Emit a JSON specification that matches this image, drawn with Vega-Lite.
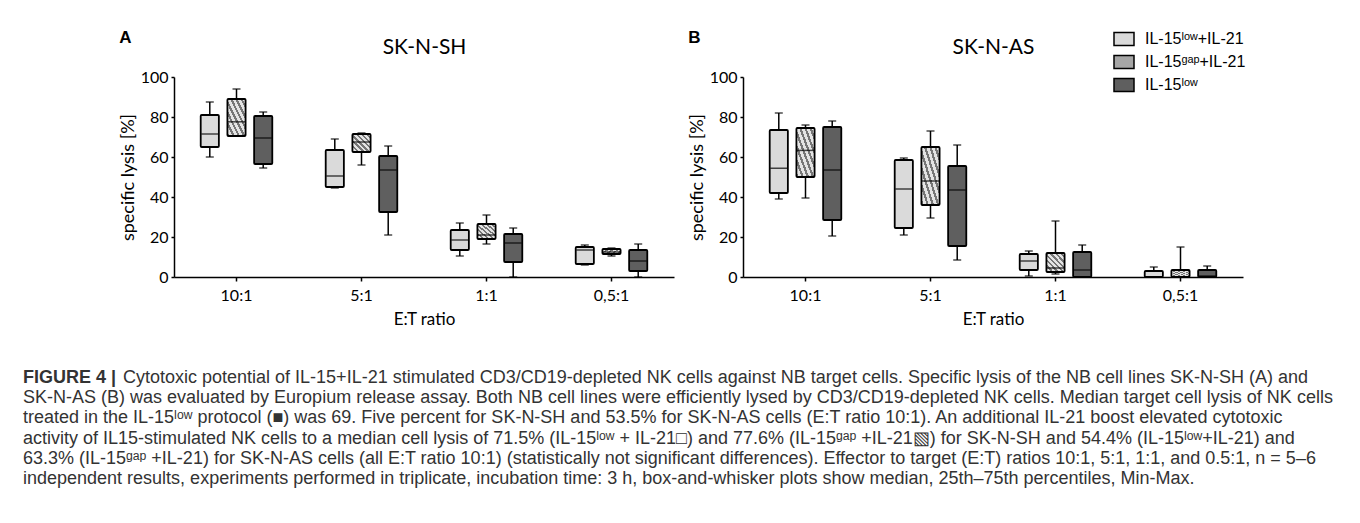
{
  "$schema": "https://vega.github.io/schema/vega-lite/v6.json",
  "background": "white",
  "padding": {"left": 23, "top": 28, "right": 0, "bottom": 0},
  "datasets": {
    "sh": [
      {"ratio": "10:1", "group": "IL-15ˡᵒʷ+IL-21", "min": 60, "q1": 65, "median": 71.5, "q3": 81, "max": 87.5},
      {"ratio": "10:1", "group": "IL-15ᵍᵃᵖ+IL-21", "min": 70.5, "q1": 70.5, "median": 77.6, "q3": 89, "max": 94},
      {"ratio": "10:1", "group": "IL-15ˡᵒʷ", "min": 54.5, "q1": 56.5, "median": 69.5, "q3": 80.5, "max": 82.5},
      {"ratio": "5:1", "group": "IL-15ˡᵒʷ+IL-21", "min": 44.5, "q1": 45, "median": 50.5, "q3": 63.5, "max": 69},
      {"ratio": "5:1", "group": "IL-15ᵍᵃᵖ+IL-21", "min": 56, "q1": 62.5, "median": 67.5, "q3": 71.5, "max": 72},
      {"ratio": "5:1", "group": "IL-15ˡᵒʷ", "min": 21, "q1": 32.5, "median": 53.5, "q3": 60.5, "max": 65.5},
      {"ratio": "1:1", "group": "IL-15ˡᵒʷ+IL-21", "min": 10.5, "q1": 13.5, "median": 18.5, "q3": 23.5, "max": 27},
      {"ratio": "1:1", "group": "IL-15ᵍᵃᵖ+IL-21", "min": 16.5, "q1": 19, "median": 21, "q3": 26.5, "max": 31},
      {"ratio": "1:1", "group": "IL-15ˡᵒʷ", "min": 0, "q1": 7.5, "median": 17, "q3": 21.5, "max": 24.5},
      {"ratio": "0,5:1", "group": "IL-15ˡᵒʷ+IL-21", "min": 6, "q1": 6.5, "median": 13.5, "q3": 15, "max": 16},
      {"ratio": "0,5:1", "group": "IL-15ᵍᵃᵖ+IL-21", "min": 10.5, "q1": 11.5, "median": 12.5, "q3": 14, "max": 14.5},
      {"ratio": "0,5:1", "group": "IL-15ˡᵒʷ", "min": 0, "q1": 3, "median": 8, "q3": 13.5, "max": 16.5}
    ],
    "as": [
      {"ratio": "10:1", "group": "IL-15ˡᵒʷ+IL-21", "min": 39, "q1": 42, "median": 54.4, "q3": 73.5, "max": 82},
      {"ratio": "10:1", "group": "IL-15ᵍᵃᵖ+IL-21", "min": 39.5, "q1": 50, "median": 63.3, "q3": 74.5, "max": 76},
      {"ratio": "10:1", "group": "IL-15ˡᵒʷ", "min": 20.5, "q1": 28.5, "median": 53.5, "q3": 75, "max": 78},
      {"ratio": "5:1", "group": "IL-15ˡᵒʷ+IL-21", "min": 21, "q1": 24.5, "median": 44, "q3": 58.5, "max": 59.5},
      {"ratio": "5:1", "group": "IL-15ᵍᵃᵖ+IL-21", "min": 29.5, "q1": 36, "median": 48, "q3": 65, "max": 73},
      {"ratio": "5:1", "group": "IL-15ˡᵒʷ", "min": 8.5, "q1": 15.5, "median": 43.5, "q3": 55.5, "max": 66},
      {"ratio": "1:1", "group": "IL-15ˡᵒʷ+IL-21", "min": 0.5, "q1": 3.5, "median": 8, "q3": 11.5, "max": 13},
      {"ratio": "1:1", "group": "IL-15ᵍᵃᵖ+IL-21", "min": 1.5, "q1": 2.5, "median": 4.5, "q3": 12, "max": 28},
      {"ratio": "1:1", "group": "IL-15ˡᵒʷ", "min": 0, "q1": 0, "median": 3.5, "q3": 12.5, "max": 16},
      {"ratio": "0,5:1", "group": "IL-15ˡᵒʷ+IL-21", "min": 0, "q1": 0, "median": 0, "q3": 3, "max": 5},
      {"ratio": "0,5:1", "group": "IL-15ᵍᵃᵖ+IL-21", "min": 0, "q1": 0, "median": 0, "q3": 3.5, "max": 15},
      {"ratio": "0,5:1", "group": "IL-15ˡᵒʷ", "min": 0, "q1": 0, "median": 0.5, "q3": 3.5, "max": 5.5}
    ],
    "caption": [
      {"line": 1, "label": "FIGURE 4 |", "text": "Cytotoxic potential of IL-15+IL-21 stimulated CD3/CD19-depleted NK cells against NB target cells. Specific lysis of the NB cell lines SK-N-SH (A) and"},
      {"line": 2, "text": "SK-N-AS (B) was evaluated by Europium release assay. Both NB cell lines were efficiently lysed by CD3/CD19-depleted NK cells. Median target cell lysis of NK cells"},
      {"line": 3, "text": "treated in the IL-15ˡᵒʷ protocol (■) was 69. Five percent for SK-N-SH and 53.5% for SK-N-AS cells (E:T ratio 10:1). An additional IL-21 boost elevated cytotoxic"},
      {"line": 4, "text": "activity of IL15-stimulated NK cells to a median cell lysis of 71.5% (IL-15ˡᵒʷ + IL-21□) and 77.6% (IL-15ᵍᵃᵖ +IL-21▧) for SK-N-SH and 54.4% (IL-15ˡᵒʷ+IL-21) and"},
      {"line": 5, "text": "63.3% (IL-15ᵍᵃᵖ +IL-21) for SK-N-AS cells (all E:T ratio 10:1) (statistically not significant differences). Effector to target (E:T) ratios 10:1, 5:1, 1:1, and 0.5:1, n = 5–6"},
      {"line": 6, "text": "independent results, experiments performed in triplicate, incubation time: 3 h, box-and-whisker plots show median, 25th–75th percentiles, Min-Max."}
    ]
  },
  "config": {
    "view": {"stroke": null},
    "font": "Lato",
    "axis": {
      "domainColor": "#000", "domainWidth": 1.5, "tickColor": "#000", "tickWidth": 1.5,
      "labelColor": "#000", "titleColor": "#000", "grid": false,
      "labelFont": "Lato", "titleFont": "Lato", "labelFontSize": 16, "titleFontSize": 17, "titleFontWeight": "normal", "labelOverlap": false
    },
    "axisY": {"values": [0, 20, 40, 60, 80, 100], "tickSize": 3, "labelPadding": 3, "titlePadding": 3, "labelFontSize": 16, "titleFontSize": 18, "labelOverlap": false}
  },
  "bounds": "flush",
  "spacing": 291,
  "vconcat": [
    {
      "hconcat": [
        {
          "width": 500, "height": 200,
          "data": {"name": "sh"},
          "title": {"text": "A", "anchor": "start", "frame": "bounds", "font": "Liberation Sans", "fontSize": 17, "fontWeight": "bold", "color": "#000", "offset": -11},
          "resolve": {"axis": {"x": "independent"}},
          "layer": [
            {
              "mark": {"type": "rule", "stroke": "#000", "strokeWidth": 1.5},
              "encoding": {
                "x": {"field": "ratio", "type": "nominal", "sort": ["10:1", "5:1", "1:1", "0,5:1"], "scale": {"paddingInner": 0, "paddingOuter": 0}, "axis": {"labelAngle": 0, "tickSize": 4, "labelPadding": 6, "titlePadding": 8, "bandPosition": 0.5, "labelFontSize": 16, "titleFontSize": 17}, "title": "E:T ratio"},
                "xOffset": {"field": "group", "type": "nominal", "sort": ["IL-15ˡᵒʷ+IL-21", "IL-15ᵍᵃᵖ+IL-21", "IL-15ˡᵒʷ"], "scale": {"paddingInner": 0.32, "paddingOuter": 1.16}},
                "y": {"field": "min", "type": "quantitative", "scale": {"domain": [0, 100], "nice": false}, "title": "specific lysis [%]"},
                "y2": {"field": "max"}
              }
            },
            {
              "mark": {"type": "bar", "stroke": "#000", "strokeWidth": 1.8, "cornerRadius": 1},
              "encoding": {
                "x": {"field": "ratio", "type": "nominal", "sort": ["10:1", "5:1", "1:1", "0,5:1"], "axis": null},
                "xOffset": {"field": "group", "type": "nominal", "sort": ["IL-15ˡᵒʷ+IL-21", "IL-15ᵍᵃᵖ+IL-21", "IL-15ˡᵒʷ"]},
                "y": {"field": "q1", "type": "quantitative", "title": "specific lysis [%]"},
                "y2": {"field": "q3"},
                "fill": {
                  "condition": {"test": "datum.group === 'IL-15ᵍᵃᵖ+IL-21'", "value": {"gradient": "linear", "x1": 1, "y1": 0, "x2": 0, "y2": 1, "stops": [
                    {"offset": 0, "color": "#e4e4e4"}, {"offset": 0.08, "color": "#e4e4e4"}, {"offset": 0.08, "color": "#767676"}, {"offset": 0.1429, "color": "#767676"},
                    {"offset": 0.1429, "color": "#e4e4e4"}, {"offset": 0.2229, "color": "#e4e4e4"}, {"offset": 0.2229, "color": "#767676"}, {"offset": 0.2857, "color": "#767676"},
                    {"offset": 0.2857, "color": "#e4e4e4"}, {"offset": 0.3657, "color": "#e4e4e4"}, {"offset": 0.3657, "color": "#767676"}, {"offset": 0.4286, "color": "#767676"},
                    {"offset": 0.4286, "color": "#e4e4e4"}, {"offset": 0.5086, "color": "#e4e4e4"}, {"offset": 0.5086, "color": "#767676"}, {"offset": 0.5714, "color": "#767676"},
                    {"offset": 0.5714, "color": "#e4e4e4"}, {"offset": 0.6514, "color": "#e4e4e4"}, {"offset": 0.6514, "color": "#767676"}, {"offset": 0.7143, "color": "#767676"},
                    {"offset": 0.7143, "color": "#e4e4e4"}, {"offset": 0.7943, "color": "#e4e4e4"}, {"offset": 0.7943, "color": "#767676"}, {"offset": 0.8571, "color": "#767676"},
                    {"offset": 0.8571, "color": "#e4e4e4"}, {"offset": 0.9371, "color": "#e4e4e4"}, {"offset": 0.9371, "color": "#767676"}, {"offset": 1, "color": "#767676"}
                  ]}},
                  "field": "group", "type": "nominal", "scale": {"domain": ["IL-15ˡᵒʷ+IL-21", "IL-15ᵍᵃᵖ+IL-21", "IL-15ˡᵒʷ"], "range": ["#dadada", "#a6a6a6", "#5f5f5f"]}, "legend": null
                }
              }
            },
            {
              "mark": {"type": "tick", "color": "#000", "thickness": 1.5, "size": 17},
              "encoding": {
                "x": {"field": "ratio", "type": "nominal", "sort": ["10:1", "5:1", "1:1", "0,5:1"], "axis": {"orient": "top", "labels": false, "ticks": false, "domain": false, "titleFontSize": 21, "titlePadding": 20}, "title": "SK-N-SH"},
                "xOffset": {"field": "group", "type": "nominal", "sort": ["IL-15ˡᵒʷ+IL-21", "IL-15ᵍᵃᵖ+IL-21", "IL-15ˡᵒʷ"]},
                "y": {"field": "median", "type": "quantitative", "title": "specific lysis [%]"}
              }
            },
            {
              "mark": {"type": "tick", "color": "#000", "thickness": 1.5, "size": 8},
              "encoding": {
                "x": {"field": "ratio", "type": "nominal", "sort": ["10:1", "5:1", "1:1", "0,5:1"], "axis": null},
                "xOffset": {"field": "group", "type": "nominal", "sort": ["IL-15ˡᵒʷ+IL-21", "IL-15ᵍᵃᵖ+IL-21", "IL-15ˡᵒʷ"]},
                "y": {"field": "min", "type": "quantitative", "title": "specific lysis [%]"}
              }
            },
            {
              "mark": {"type": "tick", "color": "#000", "thickness": 1.5, "size": 8},
              "encoding": {
                "x": {"field": "ratio", "type": "nominal", "sort": ["10:1", "5:1", "1:1", "0,5:1"], "axis": null},
                "xOffset": {"field": "group", "type": "nominal", "sort": ["IL-15ˡᵒʷ+IL-21", "IL-15ᵍᵃᵖ+IL-21", "IL-15ˡᵒʷ"]},
                "y": {"field": "max", "type": "quantitative", "title": "specific lysis [%]"}
              }
            }
          ]
        },
        {
          "width": 500, "height": 200,
          "data": {"name": "as"},
          "title": {"text": "B", "anchor": "start", "frame": "bounds", "font": "Liberation Sans", "fontSize": 17, "fontWeight": "bold", "color": "#000", "offset": -19},
          "resolve": {"axis": {"x": "independent"}},
          "layer": [
            {
              "mark": {"type": "rule", "stroke": "#000", "strokeWidth": 1.5},
              "encoding": {
                "x": {"field": "ratio", "type": "nominal", "sort": ["10:1", "5:1", "1:1", "0,5:1"], "scale": {"paddingInner": 0, "paddingOuter": 0}, "axis": {"labelAngle": 0, "tickSize": 4, "labelPadding": 6, "titlePadding": 8, "bandPosition": 0.5, "labelFontSize": 16, "titleFontSize": 17}, "title": "E:T ratio"},
                "xOffset": {"field": "group", "type": "nominal", "sort": ["IL-15ˡᵒʷ+IL-21", "IL-15ᵍᵃᵖ+IL-21", "IL-15ˡᵒʷ"], "scale": {"paddingInner": 0.32, "paddingOuter": 1.16}},
                "y": {"field": "min", "type": "quantitative", "scale": {"domain": [0, 100], "nice": false}, "title": "specific lysis [%]"},
                "y2": {"field": "max"}
              }
            },
            {
              "mark": {"type": "bar", "stroke": "#000", "strokeWidth": 1.8, "cornerRadius": 1},
              "encoding": {
                "x": {"field": "ratio", "type": "nominal", "sort": ["10:1", "5:1", "1:1", "0,5:1"], "axis": null},
                "xOffset": {"field": "group", "type": "nominal", "sort": ["IL-15ˡᵒʷ+IL-21", "IL-15ᵍᵃᵖ+IL-21", "IL-15ˡᵒʷ"]},
                "y": {"field": "q1", "type": "quantitative", "title": "specific lysis [%]"},
                "y2": {"field": "q3"},
                "fill": {
                  "condition": {"test": "datum.group === 'IL-15ᵍᵃᵖ+IL-21'", "value": {"gradient": "linear", "x1": 1, "y1": 0, "x2": 0, "y2": 1, "stops": [
                    {"offset": 0, "color": "#e4e4e4"}, {"offset": 0.08, "color": "#e4e4e4"}, {"offset": 0.08, "color": "#767676"}, {"offset": 0.1429, "color": "#767676"},
                    {"offset": 0.1429, "color": "#e4e4e4"}, {"offset": 0.2229, "color": "#e4e4e4"}, {"offset": 0.2229, "color": "#767676"}, {"offset": 0.2857, "color": "#767676"},
                    {"offset": 0.2857, "color": "#e4e4e4"}, {"offset": 0.3657, "color": "#e4e4e4"}, {"offset": 0.3657, "color": "#767676"}, {"offset": 0.4286, "color": "#767676"},
                    {"offset": 0.4286, "color": "#e4e4e4"}, {"offset": 0.5086, "color": "#e4e4e4"}, {"offset": 0.5086, "color": "#767676"}, {"offset": 0.5714, "color": "#767676"},
                    {"offset": 0.5714, "color": "#e4e4e4"}, {"offset": 0.6514, "color": "#e4e4e4"}, {"offset": 0.6514, "color": "#767676"}, {"offset": 0.7143, "color": "#767676"},
                    {"offset": 0.7143, "color": "#e4e4e4"}, {"offset": 0.7943, "color": "#e4e4e4"}, {"offset": 0.7943, "color": "#767676"}, {"offset": 0.8571, "color": "#767676"},
                    {"offset": 0.8571, "color": "#e4e4e4"}, {"offset": 0.9371, "color": "#e4e4e4"}, {"offset": 0.9371, "color": "#767676"}, {"offset": 1, "color": "#767676"}
                  ]}},
                  "field": "group", "type": "nominal", "scale": {"domain": ["IL-15ˡᵒʷ+IL-21", "IL-15ᵍᵃᵖ+IL-21", "IL-15ˡᵒʷ"], "range": ["#dadada", "#a6a6a6", "#5f5f5f"]},
                  "legend": {"title": null, "orient": "none", "legendX": 370, "legendY": -49, "padding": 0, "symbolType": "M-1,-0.65H1V0.65H-1Z", "symbolSize": 400, "symbolStrokeColor": "#000", "symbolStrokeWidth": 1.5, "symbolOpacity": 1, "labelFont": "Liberation Sans", "labelFontSize": 16, "labelColor": "#000", "labelOffset": 10, "rowPadding": 2,
                    "encode": {"symbols": {"update": {
                      "stroke": {"value": "#000"},
                      "strokeWidth": {"value": 1.5},
                      "fill": [
                        {"test": "datum.value === 'IL-15ᵍᵃᵖ+IL-21'", "value": {"gradient": "linear", "x1": 1, "y1": 0, "x2": 0, "y2": 1, "stops": [
                          {"offset": 0, "color": "#e4e4e4"}, {"offset": 0.08, "color": "#e4e4e4"}, {"offset": 0.08, "color": "#767676"}, {"offset": 0.1429, "color": "#767676"},
                          {"offset": 0.1429, "color": "#e4e4e4"}, {"offset": 0.2229, "color": "#e4e4e4"}, {"offset": 0.2229, "color": "#767676"}, {"offset": 0.2857, "color": "#767676"},
                          {"offset": 0.2857, "color": "#e4e4e4"}, {"offset": 0.3657, "color": "#e4e4e4"}, {"offset": 0.3657, "color": "#767676"}, {"offset": 0.4286, "color": "#767676"},
                          {"offset": 0.4286, "color": "#e4e4e4"}, {"offset": 0.5086, "color": "#e4e4e4"}, {"offset": 0.5086, "color": "#767676"}, {"offset": 0.5714, "color": "#767676"},
                          {"offset": 0.5714, "color": "#e4e4e4"}, {"offset": 0.6514, "color": "#e4e4e4"}, {"offset": 0.6514, "color": "#767676"}, {"offset": 0.7143, "color": "#767676"},
                          {"offset": 0.7143, "color": "#e4e4e4"}, {"offset": 0.7943, "color": "#e4e4e4"}, {"offset": 0.7943, "color": "#767676"}, {"offset": 0.8571, "color": "#767676"},
                          {"offset": 0.8571, "color": "#e4e4e4"}, {"offset": 0.9371, "color": "#e4e4e4"}, {"offset": 0.9371, "color": "#767676"}, {"offset": 1, "color": "#767676"}
                        ]}},
                        {"test": "datum.value === 'IL-15ˡᵒʷ'", "value": "#5f5f5f"},
                        {"value": "#dadada"}
                      ]
                    }}}
                  }
                }
              }
            },
            {
              "mark": {"type": "tick", "color": "#000", "thickness": 1.5, "size": 17},
              "encoding": {
                "x": {"field": "ratio", "type": "nominal", "sort": ["10:1", "5:1", "1:1", "0,5:1"], "axis": {"orient": "top", "labels": false, "ticks": false, "domain": false, "titleFontSize": 21, "titlePadding": 20}, "title": "SK-N-AS"},
                "xOffset": {"field": "group", "type": "nominal", "sort": ["IL-15ˡᵒʷ+IL-21", "IL-15ᵍᵃᵖ+IL-21", "IL-15ˡᵒʷ"]},
                "y": {"field": "median", "type": "quantitative", "title": "specific lysis [%]"}
              }
            },
            {
              "mark": {"type": "tick", "color": "#000", "thickness": 1.5, "size": 8},
              "encoding": {
                "x": {"field": "ratio", "type": "nominal", "sort": ["10:1", "5:1", "1:1", "0,5:1"], "axis": null},
                "xOffset": {"field": "group", "type": "nominal", "sort": ["IL-15ˡᵒʷ+IL-21", "IL-15ᵍᵃᵖ+IL-21", "IL-15ˡᵒʷ"]},
                "y": {"field": "min", "type": "quantitative", "title": "specific lysis [%]"}
              }
            },
            {
              "mark": {"type": "tick", "color": "#000", "thickness": 1.5, "size": 8},
              "encoding": {
                "x": {"field": "ratio", "type": "nominal", "sort": ["10:1", "5:1", "1:1", "0,5:1"], "axis": null},
                "xOffset": {"field": "group", "type": "nominal", "sort": ["IL-15ˡᵒʷ+IL-21", "IL-15ᵍᵃᵖ+IL-21", "IL-15ˡᵒʷ"]},
                "y": {"field": "max", "type": "quantitative", "title": "specific lysis [%]"}
              }
            }
          ]
        }
      ],
      "spacing": 69,
      "bounds": "flush",
      "resolve": {"legend": {"fill": "independent"}}
    },
    {
      "width": 1000, "height": 121,
      "data": {"name": "caption"},
      "encoding": {
        "y": {"field": "line", "type": "ordinal", "scale": {"type": "point", "padding": 0.5}, "axis": null}
      },
      "layer": [
        {
          "transform": [{"filter": "datum.line == 1"}],
          "mark": {"type": "text", "align": "left", "baseline": "middle", "font": "Liberation Sans", "fontSize": 18, "fontWeight": "bold", "color": "#333", "dx": -151},
          "encoding": {"x": {"value": 0}, "text": {"field": "label"}}
        },
        {
          "transform": [{"filter": "datum.line == 1"}],
          "mark": {"type": "text", "align": "left", "baseline": "middle", "font": "Liberation Sans", "fontSize": 18, "color": "#333", "dx": -51},
          "encoding": {"x": {"value": 0}, "text": {"field": "text"}}
        },
        {
          "transform": [{"filter": "datum.line > 1"}],
          "mark": {"type": "text", "align": "left", "baseline": "middle", "font": "Liberation Sans", "fontSize": 18, "color": "#333", "dx": -151},
          "encoding": {"x": {"value": 0}, "text": {"field": "text"}}
        }
      ]
    }
  ]
}
